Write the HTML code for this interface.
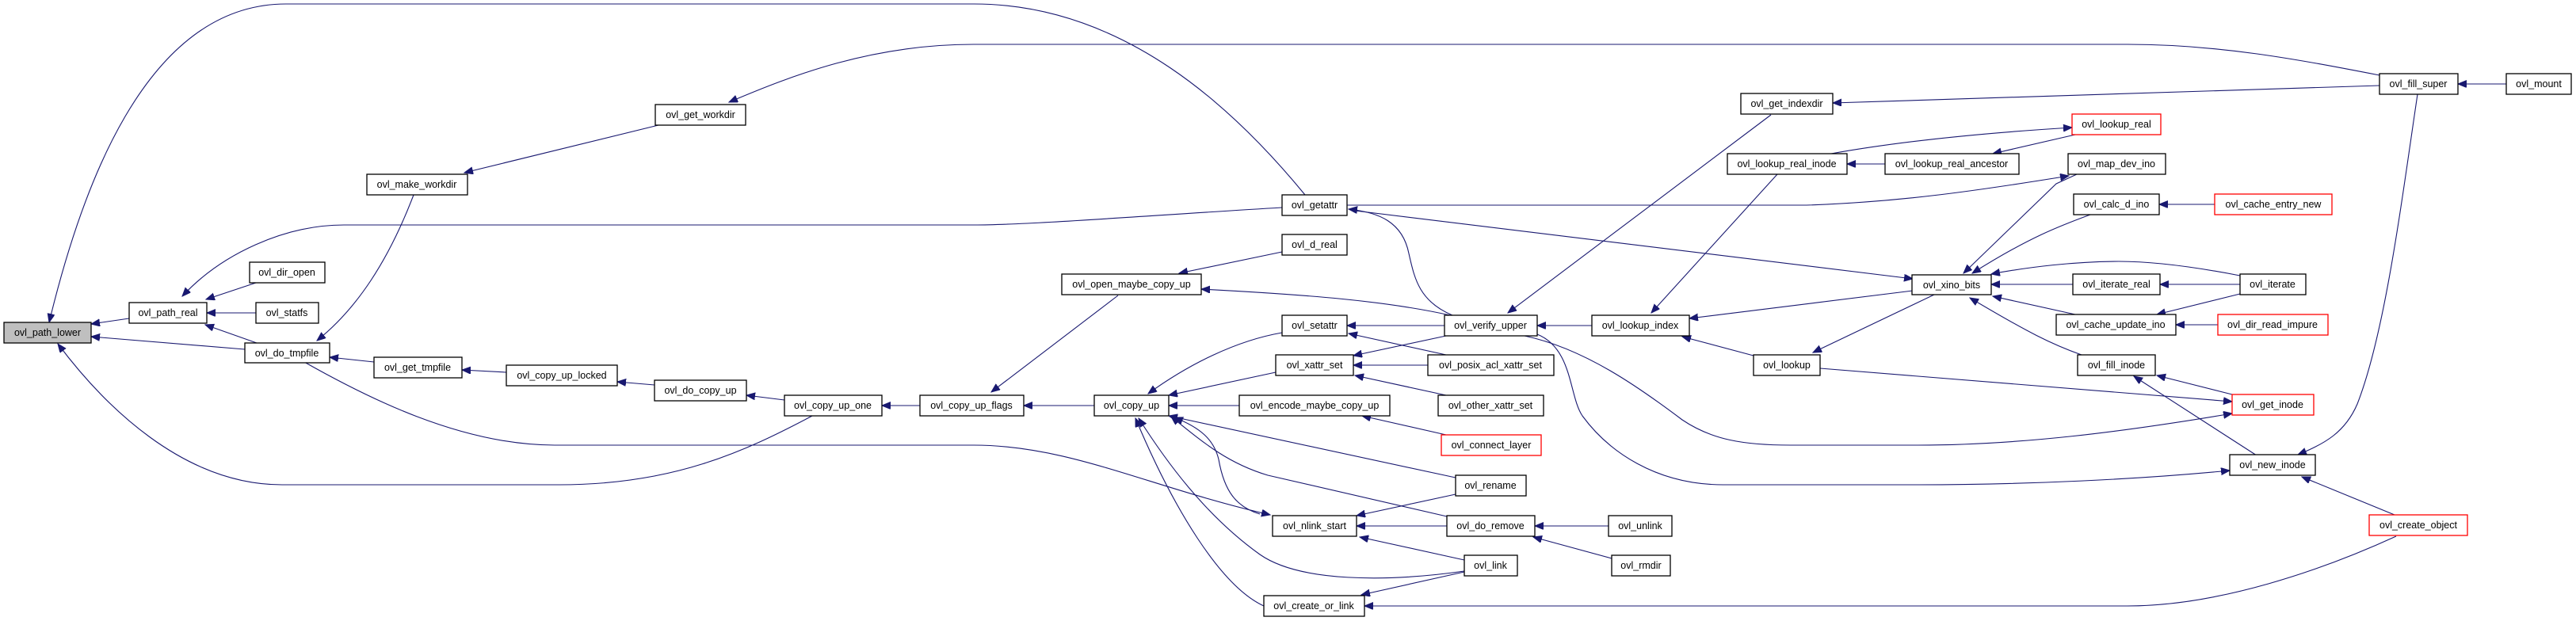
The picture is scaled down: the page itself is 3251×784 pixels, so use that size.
<!DOCTYPE html>
<html><head><meta charset="utf-8"><style>
html,body{margin:0;padding:0;background:#fff;}
svg{display:block;}
text{font-family:"Liberation Sans",Arial,sans-serif;font-size:12.5px;fill:#000;text-anchor:middle;}
.n{fill:#fff;stroke:#000;stroke-width:1.3;}
.r{fill:#fff;stroke:#ff0000;stroke-width:1.3;}
.g{fill:#bfbfbf;stroke:#000;stroke-width:1.3;}
.e{fill:none;stroke:#191970;stroke-width:1.1;marker-end:url(#a);}
</style></head><body>
<svg width="3251" height="784" viewBox="0 0 3251 784" xmlns="http://www.w3.org/2000/svg">
<defs><marker id="a" markerUnits="userSpaceOnUse" markerWidth="12" markerHeight="10" refX="11" refY="4.5" orient="auto"><path d="M0,0 L11,4.5 L0,9 Z" fill="#191970" stroke="#191970"/></marker></defs>
<g>
<path class="e" d="M163,402 L115,409"/>
<path class="e" d="M309,441 L115,425"/>
<path class="e" d="M1647,246 C1560,140 1420,5 1229,5 L361,5 C180,5 100,250 62,407"/>
<path class="e" d="M1025,525 C940,570 850,612 706,612 L356,612 C230,612 130,510 73,434"/>
<path class="e" d="M323,357 L260,378"/>
<path class="e" d="M323,395 L261,395"/>
<path class="e" d="M324,433 L259,410"/>
<path class="e" d="M1618,262 C1450,272 1300,284 1229,284 L434,284 C360,284 280,320 230,374"/>
<path class="e" d="M522,246 C490,330 450,390 400,430"/>
<path class="e" d="M831,158 L586,218"/>
<path class="e" d="M3003,95 C2900,75 2800,56 2685,56 L1229,56 C1100,56 1000,95 920,129"/>
<path class="e" d="M472,457 L416,451"/>
<path class="e" d="M639,470 L583,467"/>
<path class="e" d="M826,486 L779,482"/>
<path class="e" d="M990,505 L942,499"/>
<path class="e" d="M384,457 C460,500 580,562 700,562 L1229,562 C1350,562 1450,615 1603,650"/>
<path class="e" d="M1161,512 L1113,512"/>
<path class="e" d="M1381,512 L1292,512"/>
<path class="e" d="M1411,373 L1251,495"/>
<path class="e" d="M1618,318 L1488,345"/>
<path class="e" d="M1830,398 C1750,380 1650,372 1516,365"/>
<path class="e" d="M1618,420 C1560,430 1500,460 1449,497"/>
<path class="e" d="M1610,470 L1475,499"/>
<path class="e" d="M1564,512 L1475,512"/>
<path class="e" d="M1837,603 L1475,525"/>
<path class="e" d="M1826,652 L1600,600 C1550,585 1520,560 1478,526"/>
<path class="e" d="M1590,649 C1560,640 1545,620 1538,580 C1532,555 1515,540 1482,527"/>
<path class="e" d="M1848,721 C1750,735 1640,735 1590,700 C1520,650 1470,580 1437,528"/>
<path class="e" d="M1595,765 C1540,740 1480,640 1433,528"/>
<path class="e" d="M1833,398 C1790,380 1785,350 1778,320 C1770,280 1740,268 1702,264"/>
<path class="e" d="M1823,411 L1700,411"/>
<path class="e" d="M1825,448 L1702,421"/>
<path class="e" d="M1825,424 L1708,449"/>
<path class="e" d="M1802,461 L1708,461"/>
<path class="e" d="M1825,499 L1710,474"/>
<path class="e" d="M1825,549 L1719,525"/>
<path class="e" d="M1837,624 L1712,651"/>
<path class="e" d="M1826,664 L1712,664"/>
<path class="e" d="M1848,707 L1716,678"/>
<path class="e" d="M1848,722 L1718,751"/>
<path class="e" d="M3024,677 C2930,720 2800,765 2685,765 L1722,765"/>
<path class="e" d="M2030,664 L1937,664"/>
<path class="e" d="M2034,705 L1935,678"/>
<path class="e" d="M2009,411 L1940,411"/>
<path class="e" d="M2235,145 L1903,395"/>
<path class="e" d="M3003,108 L2313,130"/>
<path class="e" d="M2243,220 L2084,395"/>
<path class="e" d="M2414,367 L2132,402"/>
<path class="e" d="M2213,449 L2123,425"/>
<path class="e" d="M2441,372 L2288,445"/>
<path class="e" d="M2297,465 L2817,507"/>
<path class="e" d="M1924,424 C2000,440 2070,490 2123,530 C2160,555 2200,562 2260,562 L2420,562 C2550,562 2680,545 2817,522"/>
<path class="e" d="M1940,422 C1985,440 1980,500 1997,525 C2030,570 2090,612 2175,612 L2420,612 C2560,612 2700,605 2814,594"/>
<path class="e" d="M2311,194 C2400,178 2500,168 2615,161"/>
<path class="e" d="M2379,207 L2331,207"/>
<path class="e" d="M2619,170 L2515,194"/>
<path class="e" d="M1700,259 L2280,259 C2400,255 2500,240 2611,222"/>
<path class="e" d="M1710,266 L2414,352"/>
<path class="e" d="M2621,220 L2595,232 L2478,345"/>
<path class="e" d="M2638,271 C2600,285 2560,300 2489,345"/>
<path class="e" d="M2827,348 C2760,335 2710,330 2674,330 C2620,330 2560,337 2513,346"/>
<path class="e" d="M2616,359 L2513,359"/>
<path class="e" d="M2827,359 L2726,359"/>
<path class="e" d="M2619,397 L2515,374"/>
<path class="e" d="M2827,371 L2722,397"/>
<path class="e" d="M2799,410 L2746,410"/>
<path class="e" d="M2627,448 C2590,435 2560,420 2486,376"/>
<path class="e" d="M2795,258 L2725,258"/>
<path class="e" d="M2817,498 L2722,474"/>
<path class="e" d="M2848,575 L2693,475"/>
<path class="e" d="M3051,119 C3030,260 3010,420 2975,510 C2960,545 2935,560 2900,574"/>
<path class="e" d="M3022,650 L2905,602"/>
<path class="e" d="M3163,106 L3102,106"/>
</g>
<g>
<rect class="g" x="5" y="407" width="110" height="26"/><text x="60" y="424">ovl_path_lower</text>
<rect class="n" x="163" y="382" width="98" height="26"/><text x="212" y="399">ovl_path_real</text>
<rect class="n" x="315" y="331" width="95" height="26"/><text x="362" y="348">ovl_dir_open</text>
<rect class="n" x="323" y="382" width="79" height="26"/><text x="362" y="399">ovl_statfs</text>
<rect class="n" x="309" y="433" width="107" height="25"/><text x="362" y="450">ovl_do_tmpfile</text>
<rect class="n" x="463" y="220" width="127" height="26"/><text x="526" y="237">ovl_make_workdir</text>
<rect class="n" x="472" y="451" width="111" height="26"/><text x="527" y="468">ovl_get_tmpfile</text>
<rect class="n" x="639" y="461" width="140" height="26"/><text x="709" y="478">ovl_copy_up_locked</text>
<rect class="n" x="827" y="132" width="114" height="26"/><text x="884" y="149">ovl_get_workdir</text>
<rect class="n" x="826" y="480" width="116" height="26"/><text x="884" y="497">ovl_do_copy_up</text>
<rect class="n" x="990" y="499" width="123" height="26"/><text x="1051" y="516">ovl_copy_up_one</text>
<rect class="n" x="1161" y="499" width="131" height="26"/><text x="1226" y="516">ovl_copy_up_flags</text>
<rect class="n" x="1381" y="499" width="94" height="26"/><text x="1428" y="516">ovl_copy_up</text>
<rect class="n" x="1340" y="346" width="176" height="26"/><text x="1428" y="363">ovl_open_maybe_copy_up</text>
<rect class="n" x="1618" y="246" width="82" height="26"/><text x="1659" y="263">ovl_getattr</text>
<rect class="n" x="1618" y="296" width="82" height="26"/><text x="1659" y="313">ovl_d_real</text>
<rect class="n" x="1618" y="398" width="82" height="26"/><text x="1659" y="415">ovl_setattr</text>
<rect class="n" x="1610" y="448" width="98" height="26"/><text x="1659" y="465">ovl_xattr_set</text>
<rect class="n" x="1564" y="499" width="190" height="26"/><text x="1659" y="516">ovl_encode_maybe_copy_up</text>
<rect class="n" x="1837" y="600" width="89" height="26"/><text x="1881" y="617">ovl_rename</text>
<rect class="n" x="1606" y="651" width="106" height="26"/><text x="1659" y="668">ovl_nlink_start</text>
<rect class="n" x="1848" y="701" width="67" height="26"/><text x="1881" y="718">ovl_link</text>
<rect class="n" x="1595" y="752" width="127" height="26"/><text x="1658" y="769">ovl_create_or_link</text>
<rect class="n" x="1823" y="398" width="117" height="26"/><text x="1881" y="415">ovl_verify_upper</text>
<rect class="n" x="1802" y="448" width="159" height="26"/><text x="1881" y="465">ovl_posix_acl_xattr_set</text>
<rect class="n" x="1815" y="499" width="133" height="26"/><text x="1881" y="516">ovl_other_xattr_set</text>
<rect class="r" x="1819" y="549" width="126" height="26"/><text x="1882" y="566">ovl_connect_layer</text>
<rect class="n" x="1826" y="651" width="111" height="26"/><text x="1881" y="668">ovl_do_remove</text>
<rect class="n" x="2030" y="651" width="80" height="26"/><text x="2070" y="668">ovl_unlink</text>
<rect class="n" x="2034" y="701" width="74" height="26"/><text x="2071" y="718">ovl_rmdir</text>
<rect class="n" x="2009" y="398" width="123" height="26"/><text x="2070" y="415">ovl_lookup_index</text>
<rect class="n" x="2213" y="448" width="84" height="26"/><text x="2255" y="465">ovl_lookup</text>
<rect class="n" x="2197" y="118" width="116" height="26"/><text x="2255" y="135">ovl_get_indexdir</text>
<rect class="n" x="2180" y="194" width="151" height="26"/><text x="2255" y="211">ovl_lookup_real_inode</text>
<rect class="n" x="2379" y="194" width="169" height="26"/><text x="2463" y="211">ovl_lookup_real_ancestor</text>
<rect class="n" x="2413" y="347" width="100" height="25"/><text x="2463" y="364">ovl_xino_bits</text>
<rect class="n" x="3003" y="93" width="99" height="26"/><text x="3052" y="110">ovl_fill_super</text>
<rect class="n" x="3163" y="93" width="82" height="26"/><text x="3204" y="110">ovl_mount</text>
<rect class="r" x="2615" y="144" width="112" height="26"/><text x="2671" y="161">ovl_lookup_real</text>
<rect class="n" x="2610" y="194" width="123" height="26"/><text x="2671" y="211">ovl_map_dev_ino</text>
<rect class="n" x="2617" y="245" width="108" height="26"/><text x="2671" y="262">ovl_calc_d_ino</text>
<rect class="r" x="2795" y="245" width="148" height="26"/><text x="2869" y="262">ovl_cache_entry_new</text>
<rect class="n" x="2616" y="346" width="110" height="26"/><text x="2671" y="363">ovl_iterate_real</text>
<rect class="n" x="2827" y="346" width="83" height="26"/><text x="2868" y="363">ovl_iterate</text>
<rect class="n" x="2595" y="397" width="151" height="26"/><text x="2670" y="414">ovl_cache_update_ino</text>
<rect class="r" x="2799" y="397" width="139" height="26"/><text x="2868" y="414">ovl_dir_read_impure</text>
<rect class="n" x="2622" y="448" width="98" height="26"/><text x="2671" y="465">ovl_fill_inode</text>
<rect class="r" x="2817" y="498" width="103" height="26"/><text x="2868" y="515">ovl_get_inode</text>
<rect class="n" x="2814" y="574" width="108" height="26"/><text x="2868" y="591">ovl_new_inode</text>
<rect class="r" x="2990" y="650" width="124" height="26"/><text x="3052" y="667">ovl_create_object</text>
</g>
</svg>
</body></html>
